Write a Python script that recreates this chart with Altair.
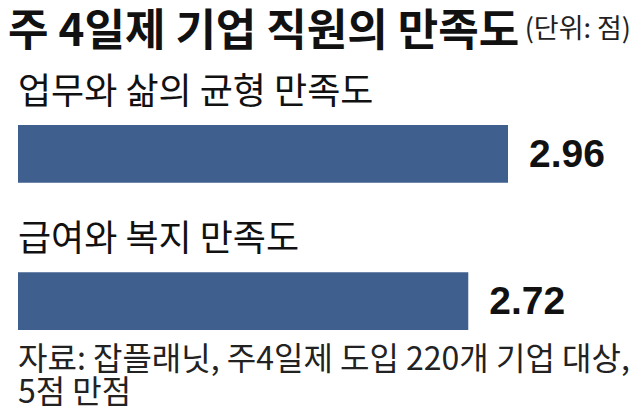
import altair as alt
import pandas as pd

title_text = "주 4일제 기업 직원의 만족도"
unit_text = "(단위: 점)"
categories = ["업무와 삶의 균형 만족도", "급여와 복지 만족도"]
values = [2.96, 2.72]
source_lines = ["자료: 잡플래닛, 주4일제 도입 220개 기업 대상,", "5점 만점"]

KR = "Noto Sans CJK KR"
NUM = "Liberation Sans, Arial"
BAR = "#3f5f8e"

df = pd.DataFrame({"category": categories, "value": values})

yenc = alt.Y(
    "category:N",
    sort=categories,
    scale=alt.Scale(domain=categories, range=[117, 322], paddingInner=0.6068, paddingOuter=0),
    axis=None,
)
xenc = alt.X(
    "value:Q",
    scale=alt.Scale(domain=[0, 3.7], range=[10, 622.5], nice=False, zero=True),
    axis=None,
)

base = alt.Chart(df)

bars = base.mark_bar(color=BAR).encode(x=xenc, y=yenc)

vals = base.mark_text(
    align="left", baseline="middle", dx=21, dy=1,
    font=NUM, fontSize=39, fontWeight="bold", color="#111111",
).encode(x=xenc, y=yenc, text=alt.Text("value:Q", format=".2f"))

cats = base.mark_text(
    align="left", baseline="middle", dx=10, dy=-61,
    font=KR, fontSize=36, color="#111111",
).encode(x=alt.value(0), y=yenc, text="category:N")

title = alt.Chart(pd.DataFrame({"t": [title_text]})).mark_text(
    align="left", baseline="middle", font=KR, fontSize=44, fontWeight="bold", color="#111111",
).encode(x=alt.value(0), y=alt.value(25), text="t:N")

unit = alt.Chart(pd.DataFrame({"t": [unit_text]})).mark_text(
    align="right", baseline="middle", font=KR, fontSize=27, color="#222222",
).encode(x=alt.value(623), y=alt.value(22), text="t:N")

source = alt.Chart(pd.DataFrame({"t": [0]})).mark_text(
    align="left", baseline="top", font=KR, fontSize=32, color="#222222",
    text=source_lines, lineHeight=33,
).encode(x=alt.value(10), y=alt.value(337))

chart = alt.layer(bars, vals, cats, title, unit, source).properties(
    width=624, height=401,
    padding=0,
    autosize="none",
).configure_view(stroke=None)

chart.save("out.html", embed_options={"renderer": "svg", "actions": False})
